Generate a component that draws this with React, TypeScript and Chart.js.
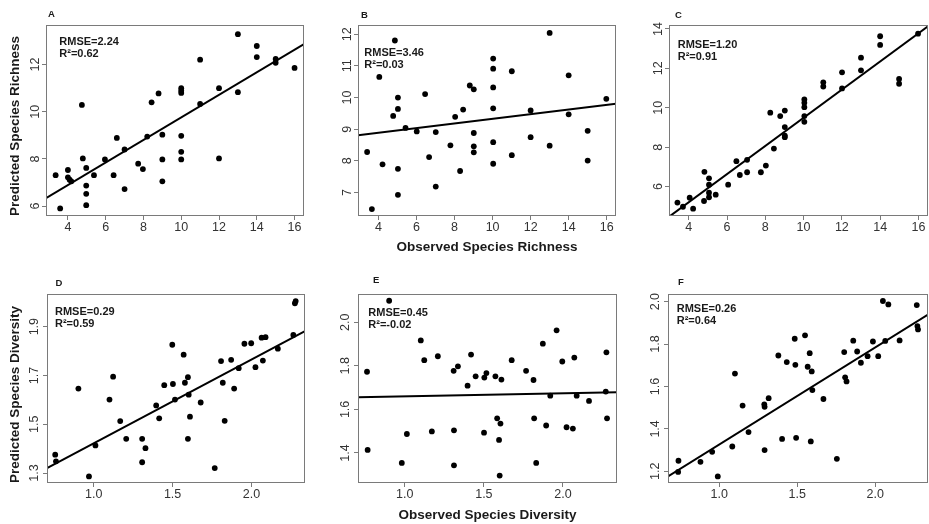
import React, { useEffect, useRef } from "react";
import { Chart, registerables } from "chart.js";

Chart.register(...registerables);

const FONT = "'Liberation Sans', Arial, Helvetica, sans-serif";

// ---------- Data ----------
// Panel A: observed vs predicted species richness
const obsA = [3.35, 3.59, 4.0, 4.0, 4.09, 4.18, 4.74, 4.79, 4.97, 4.97, 4.97, 4.97, 5.38, 5.96, 6.42, 6.59, 7.0, 7.0, 7.72, 7.97, 8.2, 8.43, 8.8, 9.0, 9.0, 9.0, 10, 10, 10, 10, 10, 10, 11, 11, 12, 12, 13, 13, 14, 14, 15, 15, 16];
const predA = [7.31, 5.9, 7.53, 7.22, 7.12, 7.05, 10.29, 8.02, 7.62, 6.87, 6.52, 6.04, 7.31, 7.98, 7.31, 8.89, 8.4, 6.72, 7.8, 7.57, 8.95, 10.4, 10.78, 9.03, 7.98, 7.05, 11.0, 10.89, 10.8, 8.98, 8.3, 7.98, 12.21, 10.33, 11.0, 8.02, 13.29, 10.83, 12.79, 12.32, 12.24, 12.08, 11.86];
const fitA = [4.98, 0.478];

// Panel B
const obsB = [3.4, 3.65, 4.04, 4.21, 4.77, 4.86, 5.02, 5.02, 5.02, 5.02, 5.42, 6.01, 6.45, 6.66, 7.01, 7.01, 7.78, 8.03, 8.29, 8.45, 8.8, 9.01, 9.01, 9.01, 9.01, 10.03, 10.03, 10.03, 10.03, 10.03, 10.03, 11.01, 11.01, 12, 12, 13, 13, 14, 14, 15, 15, 15.98];
const predB = [8.28, 6.48, 10.65, 7.89, 9.42, 11.8, 10.0, 9.64, 7.75, 6.93, 9.04, 8.93, 10.11, 8.12, 8.91, 7.19, 8.49, 9.39, 7.68, 9.62, 10.38, 10.26, 8.88, 8.46, 8.27, 11.23, 10.91, 10.32, 9.66, 8.59, 7.91, 10.83, 8.18, 9.59, 8.75, 12.04, 8.48, 10.7, 9.47, 8.95, 8.01, 9.96];
const fitB = [8.6, 0.0729];

// Panel C
const obsC = [3.41, 3.7, 4.05, 4.23, 4.82, 4.8, 5.06, 5.06, 5.06, 5.06, 5.41, 6.06, 6.49, 6.67, 7.05, 7.05, 7.77, 8.03, 8.26, 8.45, 8.78, 9.02, 9.02, 9.02, 9.02, 10.04, 10.04, 10.04, 10.04, 10.04, 11.03, 11.03, 12.01, 12.01, 13, 13, 14, 14, 14.99, 14.99, 15.98];
const predC = [5.19, 4.98, 5.44, 4.88, 6.75, 5.27, 6.42, 6.1, 5.69, 5.46, 5.59, 6.1, 7.29, 6.59, 7.36, 6.73, 6.73, 7.07, 9.75, 7.93, 9.58, 9.86, 9.02, 8.59, 8.51, 10.42, 10.25, 10.03, 9.58, 9.29, 11.29, 11.08, 11.8, 10.98, 12.54, 11.9, 13.63, 13.19, 11.46, 11.22, 13.76];
const fitC = [2.35, 0.714];

// Panel D: observed vs predicted species diversity
const obsD = [0.756, 0.761, 0.903, 0.97, 1.011, 1.1, 1.123, 1.168, 1.206, 1.307, 1.307, 1.328, 1.396, 1.415, 1.447, 1.498, 1.502, 1.515, 1.57, 1.578, 1.597, 1.597, 1.602, 1.61, 1.678, 1.767, 1.807, 1.818, 1.83, 1.871, 1.89, 1.919, 1.955, 1.998, 2.025, 2.064, 2.072, 2.089, 2.167, 2.265, 2.275, 2.28];
const predD = [1.375, 1.348, 1.646, 1.286, 1.413, 1.601, 1.695, 1.513, 1.44, 1.44, 1.344, 1.402, 1.577, 1.524, 1.66, 1.826, 1.665, 1.601, 1.785, 1.67, 1.693, 1.44, 1.621, 1.531, 1.589, 1.32, 1.759, 1.67, 1.514, 1.764, 1.646, 1.73, 1.83, 1.832, 1.734, 1.855, 1.761, 1.857, 1.81, 1.866, 1.996, 2.005];
const fitD = [1.0785, 0.3435];

// Panel E
const obsE = [0.761, 0.765, 0.901, 0.981, 1.013, 1.101, 1.123, 1.171, 1.209, 1.309, 1.311, 1.311, 1.336, 1.397, 1.419, 1.448, 1.501, 1.503, 1.516, 1.573, 1.584, 1.596, 1.605, 1.611, 1.6, 1.676, 1.767, 1.814, 1.818, 1.831, 1.873, 1.894, 1.92, 1.96, 1.996, 2.023, 2.063, 2.072, 2.087, 2.165, 2.271, 2.275, 2.279];
const predE = [1.773, 1.414, 2.099, 1.354, 1.487, 1.917, 1.826, 1.499, 1.844, 1.777, 1.504, 1.343, 1.798, 1.709, 1.852, 1.752, 1.493, 1.746, 1.767, 1.752, 1.559, 1.46, 1.535, 1.737, 1.296, 1.826, 1.777, 1.735, 1.559, 1.354, 1.902, 1.526, 1.663, 1.963, 1.82, 1.518, 1.512, 1.838, 1.663, 1.639, 1.682, 1.862, 1.559];
const fitE = [1.646, 0.014];

// Panel F
const obsF = [0.737, 0.739, 0.88, 0.955, 0.991, 1.084, 1.101, 1.15, 1.188, 1.289, 1.291, 1.291, 1.317, 1.379, 1.403, 1.433, 1.484, 1.488, 1.493, 1.55, 1.567, 1.58, 1.593, 1.597, 1.587, 1.668, 1.754, 1.801, 1.807, 1.816, 1.859, 1.884, 1.908, 1.951, 1.985, 2.019, 2.049, 2.064, 2.084, 2.156, 2.266, 2.27, 2.274];
const predF = [1.197, 1.25, 1.245, 1.292, 1.176, 1.317, 1.661, 1.51, 1.385, 1.516, 1.504, 1.3, 1.545, 1.746, 1.353, 1.715, 1.825, 1.702, 1.358, 1.841, 1.693, 1.757, 1.671, 1.583, 1.341, 1.541, 1.259, 1.762, 1.643, 1.624, 1.816, 1.765, 1.712, 1.743, 1.812, 1.743, 2.003, 1.815, 1.987, 1.817, 1.984, 1.885, 1.869];
const fitF = [0.868, 0.458];

// Tick labels
const richnessTicks = [4, 6, 8, 10, 12, 14, 16];
const diversityTicks = [1.0, 1.5, 2.0];
const yTicksA = [6, 8, 10, 12];
const yTicksB = [7, 8, 9, 10, 11, 12];
const yTicksC = [6, 8, 10, 12, 14];
const yTicksD = [1.3, 1.5, 1.7, 1.9];
const yTicksE = [1.4, 1.6, 1.8, 2.0];
const yTicksF = [1.2, 1.4, 1.6, 1.8, 2.0];

// Labels & statistics
const letters = ["A", "B", "C", "D", "E", "F"];
const rmseValues = ["2.24", "3.46", "1.20", "0.29", "0.45", "0.26"];
const r2Values = ["0.62", "0.03", "0.91", "0.59", "-0.02", "0.64"];

// ---------- Panel layout ----------
type PanelCfg = {
  obs: number[]; pred: number[]; fit: number[];
  xRange: number[]; yRange: number[];
  xTicks: number[]; yTicks: number[];
  xDigits: number; yDigits: number;
  idx: number;
  yTitle?: string; xTitle?: string; xTitlePad?: number;
  cell: number[]; box: number[];
  letterPos: number[]; statsPos: number[];
};

const panels: PanelCfg[] = [
  { obs: obsA, pred: predA, fit: fitA, xRange: [2.84, 16.5], yRange: [5.58, 13.68], xTicks: richnessTicks, yTicks: yTicksA, xDigits: 0, yDigits: 0, idx: 0,
    yTitle: "Predicted Species Richness", cell: [0, 0, 310, 262], box: [46, 25, 304, 216], letterPos: [2, -11], statsPos: [13.3, 17.3] },
  { obs: obsB, pred: predB, fit: fitB, xRange: [2.92, 16.49], yRange: [6.26, 12.29], xTicks: richnessTicks, yTicks: yTicksB, xDigits: 0, yDigits: 0, idx: 1,
    xTitle: "Observed Species Richness", xTitlePad: 7, cell: [310, 0, 310, 262], box: [358, 25, 616, 216], letterPos: [3, -10], statsPos: [6.3, 28.3] },
  { obs: obsC, pred: predC, fit: fitC, xRange: [2.97, 16.5], yRange: [4.51, 14.2], xTicks: richnessTicks, yTicks: yTicksC, xDigits: 0, yDigits: 0, idx: 2,
    cell: [620, 0, 309, 262], box: [669, 25, 928, 216], letterPos: [6, -9.5], statsPos: [8.7, 20] },
  { obs: obsD, pred: predD, fit: fitD, xRange: [0.704, 2.339], yRange: [1.259, 2.034], xTicks: diversityTicks, yTicks: yTicksD, xDigits: 1, yDigits: 1, idx: 3,
    yTitle: "Predicted Species Diversity", cell: [0, 262, 310, 262], box: [47, 294, 305, 483], letterPos: [8.5, -11], statsPos: [8, 17.7] },
  { obs: obsE, pred: predE, fit: fitE, xRange: [0.704, 2.342], yRange: [1.262, 2.13], xTicks: diversityTicks, yTicks: yTicksE, xDigits: 1, yDigits: 1, idx: 4,
    xTitle: "Observed Species Diversity", xTitlePad: 1, cell: [310, 262, 310, 262], box: [358, 294, 617, 483], letterPos: [15, -13.5], statsPos: [10.3, 19.3] },
  { obs: obsF, pred: predF, fit: fitF, xRange: [0.672, 2.338], yRange: [1.145, 2.036], xTicks: diversityTicks, yTicks: yTicksF, xDigits: 1, yDigits: 1, idx: 5,
    cell: [620, 262, 309, 262], box: [668, 294, 928, 483], letterPos: [10, -12], statsPos: [8.7, 15.3] },
];

const framePlugin = {
  id: "panelFrame",
  afterDraw(chart: any, _args: any, opts: any) {
    const { ctx, chartArea } = chart;
    const { left, top, right, bottom } = chartArea;
    ctx.save();
    ctx.strokeStyle = "#7a7a7a";
    ctx.lineWidth = 1;
    ctx.strokeRect(Math.round(left) + 0.5, Math.round(top) + 0.5, Math.round(right - left) - 1, Math.round(bottom - top) - 1);
    ctx.fillStyle = "#1a1a1a";
    ctx.textAlign = "left";
    ctx.textBaseline = "middle";
    ctx.font = `bold 9.5px ${FONT}`;
    ctx.fillText(opts.letter, left + opts.letterPos[0], top + opts.letterPos[1]);
    ctx.font = `bold 11px ${FONT}`;
    ctx.fillText(`RMSE=${opts.rmse}`, left + opts.statsPos[0], top + opts.statsPos[1]);
    ctx.fillText(`R\u00B2=${opts.r2}`, left + opts.statsPos[0], top + opts.statsPos[1] + 12);
    ctx.restore();
  },
};

function Panel({ p }: { p: PanelCfg }) {
  const ref = useRef<HTMLCanvasElement>(null);
  useEffect(() => {
    const [cl, ct, cw, ch] = p.cell;
    const [bl, bt, br, bb] = p.box;
    const padL = bl - cl;
    const padT = bt - ct;
    const padR = cl + cw - br;
    const padB = ct + ch - bb;
    const tickFont = { family: FONT, size: 12.5 };
    const titleFont = { family: FONT, size: 13.5, weight: "bold" as const };
    const chart = new Chart(ref.current as HTMLCanvasElement, {
      type: "scatter",
      data: {
        datasets: [
          {
            data: p.obs.map((x, i) => ({ x, y: p.pred[i] })),
            pointRadius: 2.9,
            pointBackgroundColor: "#000",
            pointBorderWidth: 0,
            showLine: false,
            order: 2,
          } as any,
          {
            data: p.xRange.map((x) => ({ x, y: p.fit[0] + p.fit[1] * x })),
            showLine: true,
            borderColor: "#000",
            borderWidth: 2,
            pointRadius: 0,
            order: 1,
          } as any,
        ],
      },
      options: {
        responsive: false,
        animation: false,
        devicePixelRatio: 1,
        events: [],
        layout: { padding: { left: 0, top: padT, right: padR, bottom: 0 }, autoPadding: false } as any,
        plugins: {
          legend: { display: false },
          tooltip: { enabled: false },
          panelFrame: {
            letter: letters[p.idx],
            rmse: rmseValues[p.idx],
            r2: r2Values[p.idx],
            letterPos: p.letterPos,
            statsPos: p.statsPos,
          },
        } as any,
        scales: {
          x: {
            type: "linear",
            position: "bottom",
            min: p.xRange[0],
            max: p.xRange[1],
            afterBuildTicks: (s: any) => {
              s.ticks = p.xTicks.map((v) => ({ value: v }));
            },
            afterFit: (s: any) => {
              s.height = padB;
            },
            grid: { drawOnChartArea: false, tickLength: 4, color: "#7a7a7a", lineWidth: 1 },
            border: { display: false },
            ticks: {
              font: tickFont,
              color: "#333",
              padding: 0,
              maxRotation: 0,
              autoSkip: false,
              callback: (v: any) => Number(v).toFixed(p.xDigits),
            },
            title: p.xTitle
              ? { display: true, text: p.xTitle, font: titleFont, color: "#1a1a1a", padding: { top: 0, bottom: p.xTitlePad } }
              : { display: false },
          } as any,
          y: {
            type: "linear",
            position: "left",
            min: p.yRange[0],
            max: p.yRange[1],
            afterBuildTicks: (s: any) => {
              s.ticks = p.yTicks.map((v) => ({ value: v }));
            },
            afterFit: (s: any) => {
              s.width = padL;
            },
            grid: { drawOnChartArea: false, tickLength: 4, color: "#7a7a7a", lineWidth: 1 },
            border: { display: false },
            ticks: {
              font: tickFont,
              color: "#333",
              padding: 0,
              minRotation: 90,
              maxRotation: 90,
              crossAlign: "center",
              autoSkip: false,
              callback: (v: any) => Number(v).toFixed(p.yDigits),
            },
            title: p.yTitle
              ? { display: true, text: p.yTitle, align: "start", font: titleFont, color: "#1a1a1a", padding: { top: 7, bottom: 0 } }
              : { display: false },
          } as any,
        },
      },
      plugins: [framePlugin as any],
    });
    return () => chart.destroy();
  }, [p]);
  const [cl, ct, cw, ch] = p.cell;
  return (
    <canvas
      ref={ref}
      width={cw}
      height={ch}
      style={{ position: "absolute", left: cl, top: ct, width: cw, height: ch }}
    />
  );
}

export default function App() {
  return (
    <div
      style={{
        position: "fixed",
        left: 0,
        top: 0,
        width: 929,
        height: 524,
        background: "#ffffff",
        overflow: "hidden",
      }}
    >
      {panels.map((p) => (
        <Panel key={p.idx} p={p} />
      ))}
    </div>
  );
}
